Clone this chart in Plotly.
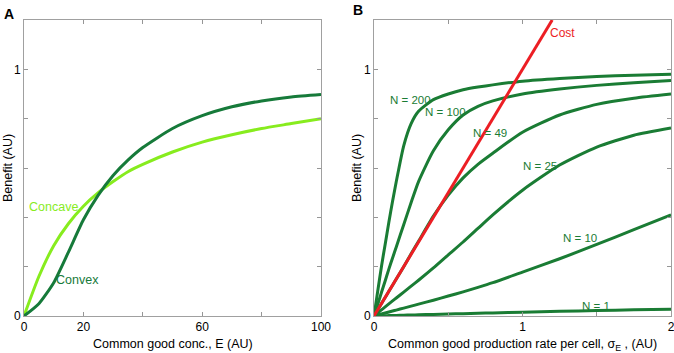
import plotly.graph_objects as go

# ---------- Panel A data ----------
conc_E = [0, 5, 10, 15, 20, 25, 30, 35, 40, 50, 60, 70, 80, 90, 100]
benefit_convex = [0, 0.05, 0.135, 0.26, 0.39, 0.49, 0.57, 0.632, 0.683, 0.76, 0.812, 0.848, 0.872, 0.888, 0.898]
benefit_concave = [0, 0.16, 0.285, 0.375, 0.445, 0.50, 0.545, 0.585, 0.615, 0.665, 0.705, 0.735, 0.76, 0.78, 0.80]

# ---------- Panel B data ----------
sigma_E = [0, 0.025, 0.05, 0.075, 0.1, 0.125, 0.15, 0.2, 0.25, 0.3, 0.4, 0.5, 0.6, 0.7, 0.8, 1.0, 1.25, 1.5, 1.75, 2.0]
benefit_N200 = [0, 0.10, 0.20, 0.29, 0.38, 0.465, 0.545, 0.69, 0.78, 0.83, 0.877, 0.90, 0.917, 0.928, 0.937, 0.952, 0.963, 0.971, 0.976, 0.98]
benefit_N100 = [0, 0.047, 0.095, 0.142, 0.19, 0.235, 0.28, 0.37, 0.46, 0.545, 0.67, 0.755, 0.815, 0.85, 0.872, 0.90, 0.92, 0.935, 0.946, 0.955]
benefit_N49 = [0, 0.025, 0.05, 0.075, 0.10, 0.125, 0.15, 0.20, 0.252, 0.303, 0.405, 0.49, 0.56, 0.615, 0.66, 0.745, 0.815, 0.858, 0.883, 0.90]
benefit_N25 = [0, 0.012, 0.025, 0.037, 0.049, 0.061, 0.073, 0.097, 0.121, 0.145, 0.195, 0.248, 0.30, 0.355, 0.41, 0.51, 0.612, 0.685, 0.733, 0.762]
benefit_N10 = [0, 0.004, 0.008, 0.012, 0.016, 0.02, 0.024, 0.032, 0.04, 0.048, 0.064, 0.081, 0.098, 0.116, 0.135, 0.178, 0.232, 0.29, 0.35, 0.41]
benefit_N1 = [0, 0.0004, 0.0008, 0.0012, 0.0016, 0.002, 0.0024, 0.0032, 0.004, 0.0048, 0.0064, 0.008, 0.0096, 0.011, 0.0125, 0.015, 0.019, 0.022, 0.025, 0.027]
cost_sigma = [0, 1.2]
cost_values = [0, 1.2]

curve_labels = ["N = 200", "N = 100", "N = 49", "N = 25", "N = 10", "N = 1"]
label_pos = [(0.245, 0.875), (0.48, 0.826), (0.78, 0.74), (1.115, 0.607), (1.387, 0.317), (1.495, 0.042)]

xA_ticks = [0, 20, 60, 100]
xB_ticks = [0, 1, 2]
y_ticks = [0, 1]

DARK = "rgb(22,122,58)"
LIGHT = "rgb(135,236,30)"
GREEN_B = "rgb(26,124,52)"
RED = "rgb(236,30,36)"
FONT = "Liberation Sans, Arial, sans-serif"

W, H = 674, 353


def px_x(p):
    return p / W


def px_y(p):
    return 1 - p / H


fig = go.Figure()
line_kw = dict(shape="spline", smoothing=0.6, width=3)

fig.add_trace(go.Scatter(x=conc_E, y=benefit_concave, mode="lines", line=dict(color=LIGHT, **line_kw),
                         xaxis="x", yaxis="y", showlegend=False))
fig.add_trace(go.Scatter(x=conc_E, y=benefit_convex, mode="lines", line=dict(color=DARK, **line_kw),
                         xaxis="x", yaxis="y", showlegend=False))

for vals in [benefit_N200, benefit_N100, benefit_N49, benefit_N25, benefit_N10, benefit_N1]:
    fig.add_trace(go.Scatter(x=sigma_E, y=vals, mode="lines", line=dict(color=GREEN_B, **line_kw),
                             xaxis="x2", yaxis="y2", showlegend=False))
fig.add_trace(go.Scatter(x=cost_sigma, y=cost_values, mode="lines", line=dict(color=RED, width=3),
                         xaxis="x2", yaxis="y2", showlegend=False))

TICKC = "rgb(150,150,150)"
axis_common = dict(showgrid=False, zeroline=False, showline=True, linecolor="rgb(160,160,160)", linewidth=1,
                   mirror="allticks", ticks="inside", ticklen=4, tickcolor=TICKC,
                   automargin=False, ticklabeloverflow="allow",
                   tickfont=dict(family=FONT, size=12, color="black"))

ydom = [px_y(316), px_y(20)]
fig.update_layout(
    template="none",
    width=W, height=H,
    margin=dict(l=0, r=0, t=0, b=0, pad=0),
    paper_bgcolor="white", plot_bgcolor="white",
    hovermode=False,
    xaxis=dict(domain=[px_x(24), px_x(321)], range=[0, 100], tickvals=xA_ticks,
               minor=dict(dtick=20, tick0=0, ticks="inside", ticklen=4, tickcolor=TICKC),
               anchor="y", **axis_common),
    yaxis=dict(domain=ydom, range=[0, 1.2], tickvals=y_ticks,
               minor=dict(dtick=0.2, tick0=0, ticks="inside", ticklen=4, tickcolor=TICKC),
               anchor="x", **axis_common),
    xaxis2=dict(domain=[px_x(374), px_x(671)], range=[0, 2], tickvals=xB_ticks,
                minor=dict(dtick=0.5, tick0=0, ticks="inside", ticklen=4, tickcolor=TICKC),
                anchor="y2", **axis_common),
    yaxis2=dict(domain=ydom, range=[0, 1.2], tickvals=y_ticks,
                minor=dict(dtick=0.2, tick0=0, ticks="inside", ticklen=4, tickcolor=TICKC),
                anchor="x2", **axis_common),
    font=dict(family=FONT, size=12, color="black"),
)

ann = []
ann.append(dict(text="<b>A</b>", x=px_x(2), y=px_y(4), xref="paper", yref="paper", xanchor="left", yanchor="top",
                showarrow=False, font=dict(size=14, family=FONT)))
ann.append(dict(text="<b>B</b>", x=px_x(351), y=px_y(0), xref="paper", yref="paper", xanchor="left", yanchor="top",
                showarrow=False, font=dict(size=14, family=FONT)))
ann.append(dict(text="Common good conc., E (AU)", x=px_x((24 + 321) / 2), y=px_y(344), xref="paper", yref="paper",
                xanchor="center", yanchor="middle", showarrow=False, font=dict(size=12.5, family=FONT)))
ann.append(dict(text="Common good production rate per cell, σ<sub>E</sub> , (AU)", x=px_x((374 + 671) / 2),
                y=px_y(345), xref="paper", yref="paper", xanchor="center", yanchor="middle", showarrow=False,
                font=dict(size=12.5, family=FONT)))
ann.append(dict(text="Benefit (AU)", x=px_x(8), y=px_y(168), xref="paper", yref="paper", xanchor="center",
                yanchor="middle", textangle=-90, showarrow=False, font=dict(size=12.5, family=FONT)))
ann.append(dict(text="Benefit (AU)", x=px_x(357), y=px_y(168), xref="paper", yref="paper", xanchor="center",
                yanchor="middle", textangle=-90, showarrow=False, font=dict(size=12.5, family=FONT)))
ann.append(dict(text="Concave", x=1.0, y=0.44, xref="x", yref="y", xanchor="left", yanchor="middle",
                showarrow=False, font=dict(size=12.5, family=FONT, color=LIGHT)))
ann.append(dict(text="Convex", x=10, y=0.145, xref="x", yref="y", xanchor="left", yanchor="middle",
                showarrow=False, font=dict(size=12.5, family=FONT, color=DARK)))
for lbl, (lx, ly) in zip(curve_labels, label_pos):
    ann.append(dict(text=lbl, x=lx, y=ly, xref="x2", yref="y2", xanchor="center", yanchor="middle",
                    showarrow=False, font=dict(size=11.5, family=FONT, color=GREEN_B)))
ann.append(dict(text="Cost", x=1.266, y=1.146, xref="x2", yref="y2", xanchor="center", yanchor="middle",
                showarrow=False, font=dict(size=12, family=FONT, color=RED)))
fig.update_layout(annotations=ann)

fig.write_html("out.html", config={"displayModeBar": False},
               post_script="document.body.style.margin='0px';")
